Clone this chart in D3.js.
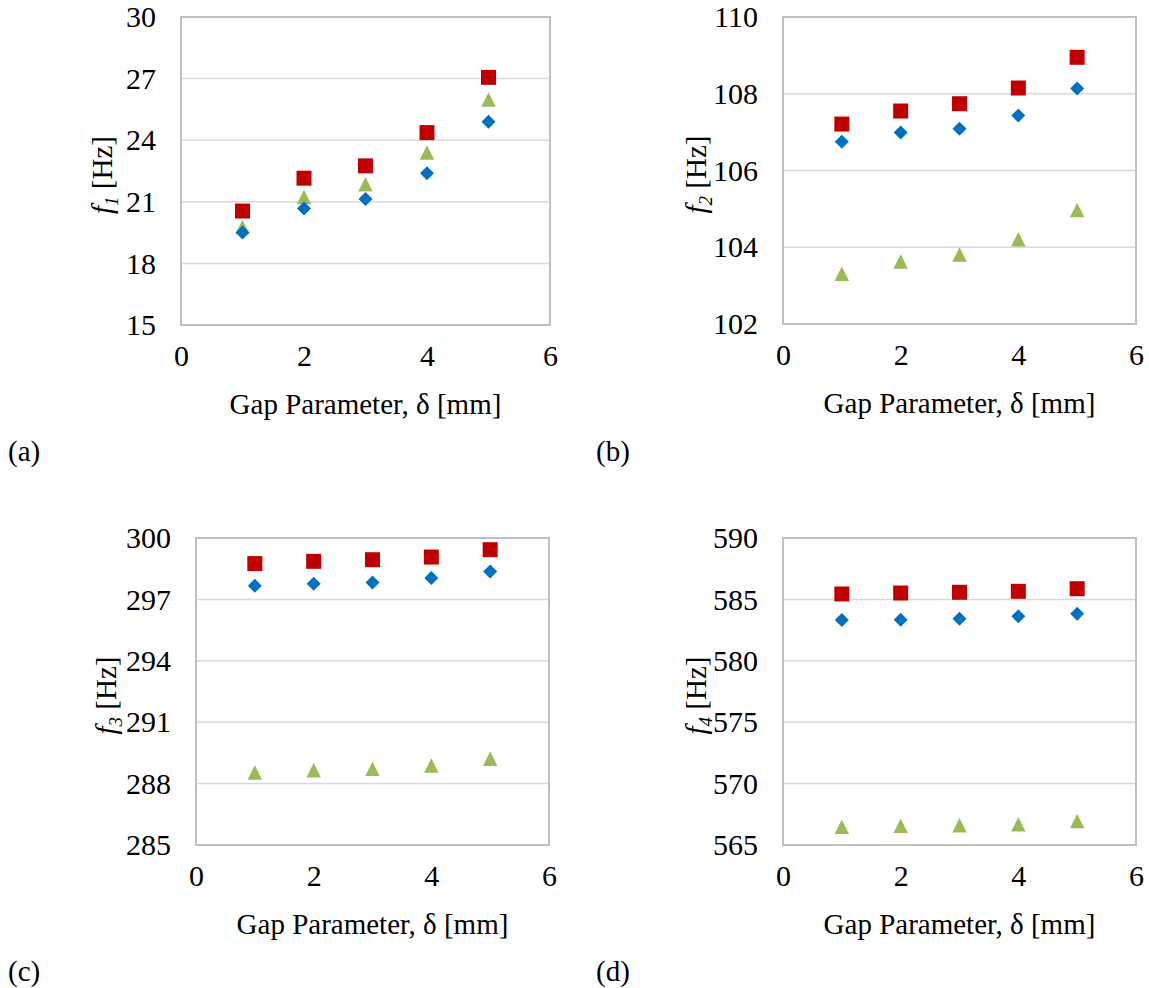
<!DOCTYPE html>
<html>
<head>
<meta charset="utf-8">
<script src="https://cdn.jsdelivr.net/npm/d3@7"></script>
<style>
  body { margin: 0; background: #fff; }
  text { font-family: 'Liberation Serif', 'Times New Roman', serif; fill: #000; }
</style>
</head>
<body>
<div id="chart"></div>
<script>
// gap parameter, delta [mm]
const gap = [1, 2, 3, 4, 5];
const xTicks = [0, 2, 4, 6];

// f1 [Hz]
const f1Square = [20.55, 22.15, 22.75, 24.37, 27.06];
const f1Triangle = [19.77, 21.23, 21.85, 23.4, 25.98];
const f1Diamond = [19.51, 20.67, 21.14, 22.39, 24.9];
const f1Ticks = [15, 18, 21, 24, 27, 30];

// f2 [Hz]
const f2Square = [107.21, 107.55, 107.74, 108.15, 108.95];
const f2Triangle = [103.31, 103.63, 103.81, 104.21, 104.97];
const f2Diamond = [106.75, 106.99, 107.09, 107.43, 108.14];
const f2Ticks = [102, 104, 106, 108, 110];

// f3 [Hz]
const f3Square = [298.75, 298.86, 298.94, 299.07, 299.43];
const f3Triangle = [288.54, 288.65, 288.72, 288.88, 289.22];
const f3Diamond = [297.67, 297.77, 297.83, 298.05, 298.36];
const f3Ticks = [285, 288, 291, 294, 297, 300];

// f4 [Hz]
const f4Square = [585.44, 585.52, 585.58, 585.66, 585.87];
const f4Triangle = [566.49, 566.57, 566.6, 566.68, 566.95];
const f4Diamond = [583.32, 583.35, 583.43, 583.62, 583.84];
const f4Ticks = [565, 570, 575, 580, 585, 590];

const width = 1149;
const height = 988;
const serif = "'Liberation Serif', 'Times New Roman', serif";

const red = '#C00000';
const green = '#9BBB59';
const blue = '#0070C0';

// excel-like markers: square, rotated square, triangle (bbox centred)
const squareSym = {
    draw(ctx, size) {
        const h = Math.sqrt(size) / 2;
        ctx.rect(-h, -h, h * 2, h * 2);
    }
};
const diamondSym = {
    draw(ctx, size) {
        const h = Math.sqrt(size) / 2;
        ctx.moveTo(0, -h);
        ctx.lineTo(h, 0);
        ctx.lineTo(0, h);
        ctx.lineTo(-h, 0);
        ctx.closePath();
    }
};
const triangleSym = {
    draw(ctx, size) {
        const h = Math.sqrt(size) / 2;
        ctx.moveTo(0, -h);
        ctx.lineTo(h, h);
        ctx.lineTo(-h, h);
        ctx.closePath();
    }
};

const panels = [
    { sub: '1', tag: '(a)', ticks: f1Ticks, square: f1Square, triangle: f1Triangle, diamond: f1Diamond,
      left: 181, right: 550, top: 17, bottom: 325, labelX: 112, tagX: 8, tagY: 461 },
    { sub: '2', tag: '(b)', ticks: f2Ticks, square: f2Square, triangle: f2Triangle, diamond: f2Diamond,
      left: 783, right: 1136, top: 17, bottom: 324, labelX: 706, tagX: 596, tagY: 461 },
    { sub: '3', tag: '(c)', ticks: f3Ticks, square: f3Square, triangle: f3Triangle, diamond: f3Diamond,
      left: 196, right: 549, top: 538, bottom: 845, labelX: 116, tagX: 8, tagY: 981 },
    { sub: '4', tag: '(d)', ticks: f4Ticks, square: f4Square, triangle: f4Triangle, diamond: f4Diamond,
      left: 783, right: 1136, top: 538, bottom: 845, labelX: 706, tagX: 596, tagY: 981 }
];

const svg = d3.select('#chart')
    .append('svg')
    .attr('width', width)
    .attr('height', height);

panels.forEach(p => {
    const xScale = d3.scaleLinear()
        .domain([xTicks[0], xTicks[xTicks.length - 1]])
        .range([p.left, p.right]);

    const yScale = d3.scaleLinear()
        .domain([p.ticks[0], p.ticks[p.ticks.length - 1]])
        .range([p.bottom, p.top]);

    const g = svg.append('g');

    // gridlines
    g.append('g')
        .selectAll('line')
        .data(p.ticks.slice(1, -1))
        .enter()
        .append('line')
        .attr('x1', p.left)
        .attr('x2', p.right)
        .attr('y1', d => yScale(d))
        .attr('y2', d => yScale(d))
        .attr('stroke', '#D9D9D9')
        .attr('stroke-width', 1.5);

    // plot frame
    g.append('rect')
        .attr('x', p.left)
        .attr('y', p.top)
        .attr('width', p.right - p.left)
        .attr('height', p.bottom - p.top)
        .attr('fill', 'none')
        .attr('stroke', '#BFBFBF')
        .attr('stroke-width', 2);

    const yAxis = d3.axisLeft(yScale)
        .tickValues(p.ticks)
        .tickFormat(d3.format('d'))
        .tickSize(0)
        .tickPadding(25);

    g.append('g')
        .attr('class', 'y-axis')
        .attr('transform', 'translate(' + p.left + ',0)')
        .call(yAxis)
        .attr('font-family', serif)
        .call(a => a.select('.domain').remove())
        .selectAll('text')
        .style('font-family', serif)
        .style('font-size', '30px');

    const xAxis = d3.axisBottom(xScale)
        .tickValues(xTicks)
        .tickFormat(d3.format('d'))
        .tickSize(0)
        .tickPadding(20);

    g.append('g')
        .attr('class', 'x-axis')
        .attr('transform', 'translate(0,' + p.bottom + ')')
        .call(xAxis)
        .attr('font-family', serif)
        .call(a => a.select('.domain').remove())
        .selectAll('text')
        .style('font-family', serif)
        .style('font-size', '30px');

    // x axis title
    g.append('text')
        .attr('x', (p.left + p.right) / 2)
        .attr('y', p.bottom + 89)
        .attr('text-anchor', 'middle')
        .style('font-size', '29px')
        .text('Gap Parameter, δ [mm]');

    // y axis title
    const yl = g.append('text')
        .attr('transform', 'translate(' + p.labelX + ',' + ((p.top + p.bottom) / 2 + 4) + ') rotate(-90)')
        .attr('text-anchor', 'middle')
        .style('font-size', '29px');
    yl.append('tspan').style('font-style', 'italic').text('f');
    yl.append('tspan').style('font-style', 'italic').style('font-size', '19px').attr('dy', 6).text(p.sub);
    yl.append('tspan').attr('dy', -6).text(' [Hz]');

    // panel tag
    g.append('text')
        .attr('x', p.tagX)
        .attr('y', p.tagY)
        .style('font-size', '29px')
        .text(p.tag);

    const series = [
        { values: p.square, type: squareSym, size: 225, color: red },
        { values: p.triangle, type: triangleSym, size: 210, color: green },
        { values: p.diamond, type: diamondSym, size: 196, color: blue }
    ];

    series.forEach(s => {
        g.append('g')
            .selectAll('path')
            .data(gap.map((x, i) => [x, s.values[i]]))
            .enter()
            .append('path')
            .attr('transform', d => 'translate(' + xScale(d[0]) + ',' + yScale(d[1]) + ')')
            .attr('d', d3.symbol().type(s.type).size(s.size))
            .attr('fill', s.color);
    });
});
</script>
</body>
</html>
